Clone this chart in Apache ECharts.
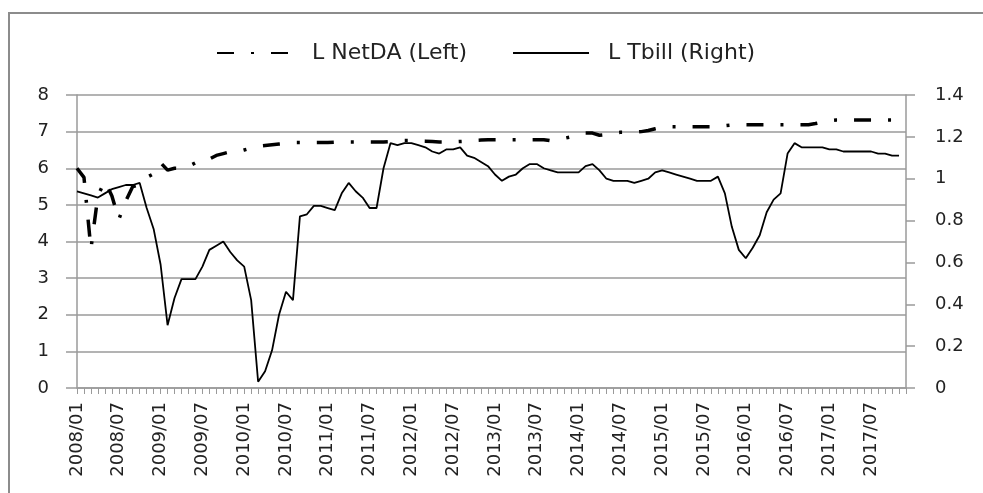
<!DOCTYPE html>
<html lang="EN">
<head>
    <meta charset="utf-8">
    <script src="https://cdn.jsdelivr.net/npm/echarts@6/dist/echarts.min.js"></script>
</head>
<body>
<style>
    body {
        background: #fff;
        margin: 0;
    }
    #main {
        width: 983px;
        height: 493px;
    }
</style>

<div id="main"></div>

<script>
    // monthly categories 2008/01 .. 2017/12
    var months = [];
    for (var y = 2008; y <= 2017; y++) {
        for (var m = 1; m <= 12; m++) {
            months.push(y + '/' + (m < 10 ? '0' + m : m));
        }
    }

    // L NetDA, left axis
    var netDA = [
        6.0, 5.75, 3.8, 5.25, 5.65, 5.25, 4.6, 5.1, 5.5, 5.55, 5.75, 5.85,
        6.15, 5.95, 6.0, 6.0, 6.05, 6.15, 6.15, 6.25, 6.35, 6.4, 6.45, 6.45,
        6.5, 6.55, 6.6, 6.62, 6.64, 6.66, 6.68, 6.7, 6.7, 6.7, 6.7, 6.7,
        6.7, 6.71, 6.72, 6.72, 6.72, 6.72, 6.72, 6.72, 6.72, 6.73, 6.75, 6.76,
        6.76, 6.75, 6.74, 6.73, 6.72, 6.72, 6.72, 6.73, 6.74, 6.76, 6.77, 6.78,
        6.78, 6.78, 6.78, 6.78, 6.78, 6.78, 6.78, 6.78, 6.75, 6.78, 6.82, 6.86,
        6.9, 6.96, 6.96, 6.9, 6.92, 6.96, 6.98, 6.98, 6.98, 7.0, 7.03, 7.08,
        7.12, 7.13, 7.13, 7.13, 7.13, 7.13, 7.13, 7.13, 7.14, 7.16, 7.18, 7.19,
        7.19, 7.19, 7.19, 7.19, 7.19, 7.19, 7.19, 7.19, 7.19, 7.19, 7.22, 7.26,
        7.3, 7.32, 7.32, 7.32, 7.32, 7.32, 7.32, 7.32, 7.32, 7.32, 7.24, null
    ];

    // L Tbill, right axis
    var tbill = [
        0.94, 0.93, 0.92, 0.91, 0.93, 0.95, 0.96, 0.97, 0.97, 0.98, 0.86, 0.76,
        0.59, 0.30, 0.43, 0.52, 0.52, 0.52, 0.58, 0.66, 0.68, 0.70, 0.65, 0.61,
        0.58, 0.42, 0.03, 0.08, 0.18, 0.35, 0.46, 0.42, 0.82, 0.83, 0.87, 0.87,
        0.86, 0.85, 0.93, 0.98, 0.94, 0.91, 0.86, 0.86, 1.05, 1.17, 1.16, 1.17,
        1.17, 1.16, 1.15, 1.13, 1.12, 1.14, 1.14, 1.15, 1.11, 1.10, 1.08, 1.06,
        1.02, 0.99, 1.01, 1.02, 1.05, 1.07, 1.07, 1.05, 1.04, 1.03, 1.03, 1.03,
        1.03, 1.06, 1.07, 1.04, 1.00, 0.99, 0.99, 0.99, 0.98, 0.99, 1.00, 1.03,
        1.04, 1.03, 1.02, 1.01, 1.00, 0.99, 0.99, 0.99, 1.01, 0.93, 0.77, 0.66,
        0.62, 0.67, 0.73, 0.84, 0.90, 0.93, 1.12, 1.17, 1.15, 1.15, 1.15, 1.15,
        1.14, 1.14, 1.13, 1.13, 1.13, 1.13, 1.13, 1.12, 1.12, 1.11, 1.11, null
    ];

    var leftTicks = { min: 0, max: 8, step: 1 };
    var rightTicks = { min: 0, max: 1.4, step: 0.2 };

    var font = 'DejaVu Sans';
    var gray = '#9a9a9a';

    var chart = echarts.init(document.getElementById('main'), null, { renderer: 'canvas' });

    chart.setOption({
        animation: false,
        backgroundColor: '#fff',
        graphic: [{
            type: 'rect',
            shape: { x: 9, y: 13, width: 1000, height: 520 },
            style: { fill: 'none', stroke: '#8c8c8c', lineWidth: 2 }
        }],
        legend: {
            left: 211,
            top: 37,
            itemWidth: 76,
            itemHeight: 14,
            itemGap: 45,
            itemStyle: { opacity: 0 },
            textStyle: {
                fontFamily: font,
                fontSize: 22,
                color: '#222',
                padding: [0, 0, 0, 14]
            },
            data: ['L NetDA (Left)', 'L Tbill (Right)']
        },
        grid: {
            left: 77,
            right: 77,
            top: 95,
            bottom: 105,
            containLabel: false
        },
        xAxis: {
            type: 'category',
            data: months,
            boundaryGap: false,
            axisLine: { lineStyle: { color: gray, width: 1.5 } },
            axisTick: { show: true, interval: 0, length: 6, lineStyle: { color: gray } },
            axisLabel: {
                interval: 5,
                rotate: 90,
                margin: 14,
                fontFamily: font,
                fontSize: 18,
                color: '#222'
            },
            splitLine: { show: false }
        },
        yAxis: [{
            type: 'value',
            min: leftTicks.min,
            max: leftTicks.max,
            interval: leftTicks.step,
            position: 'left',
            axisLine: { show: true, lineStyle: { color: gray, width: 1.5 } },
            axisTick: { show: true, length: 11, lineStyle: { color: gray, width: 1.5 } },
            axisLabel: { margin: 28, fontFamily: font, fontSize: 18, color: '#222' },
            splitLine: { show: true, lineStyle: { color: gray, width: 1.5 } }
        }, {
            type: 'value',
            min: rightTicks.min,
            max: rightTicks.max,
            interval: rightTicks.step,
            position: 'right',
            axisLine: { show: true, lineStyle: { color: gray, width: 1.5 } },
            axisTick: { show: true, length: 9, lineStyle: { color: gray, width: 1.5 } },
            axisLabel: { margin: 29, fontFamily: font, fontSize: 18, color: '#222' },
            splitLine: { show: false }
        }],
        series: [{
            name: 'L NetDA (Left)',
            type: 'line',
            yAxisIndex: 0,
            data: netDA,
            symbol: 'none',
            color: '#000',
            lineStyle: { color: '#000', width: 3.5, type: [17, 17, 3, 17] }
        }, {
            name: 'L Tbill (Right)',
            type: 'line',
            yAxisIndex: 1,
            data: tbill,
            symbol: 'none',
            color: '#000',
            lineStyle: { color: '#000', width: 1.8 }
        }]
    });
</script>
</body>
</html>
